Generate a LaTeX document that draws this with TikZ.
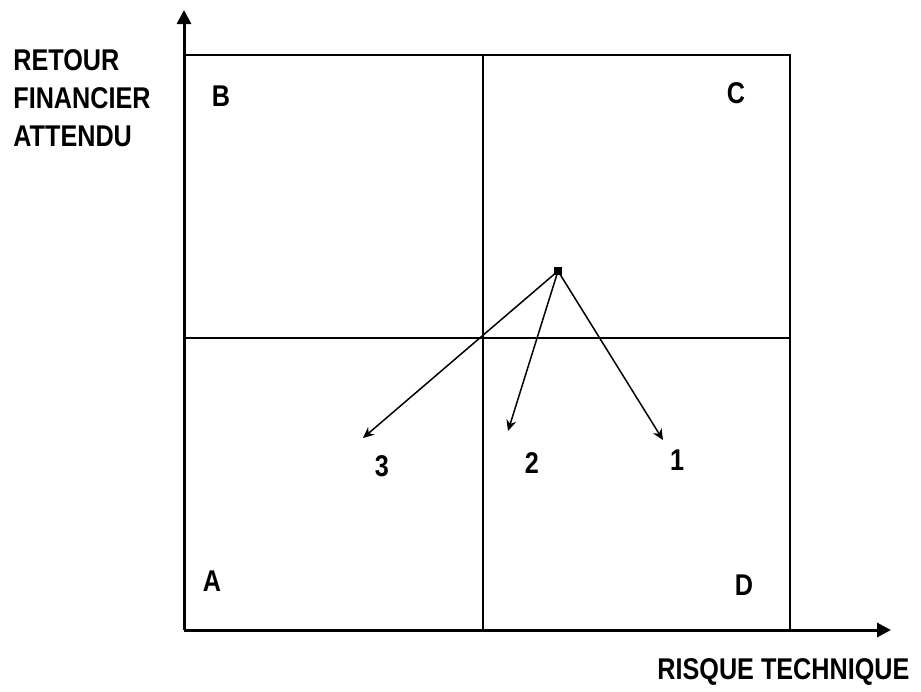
\documentclass[tikz,border=0pt]{standalone}
\usepackage{fontspec}
\setmainfont{Liberation Sans}[FakeStretch=0.84]
\usetikzlibrary{arrows.meta}

\begin{document}
\begin{tikzpicture}[x=0.5pt, y=-0.5pt,
    lbl/.style={font=\fontsize{15}{19}\selectfont\bfseries, inner sep=0pt},
    axis/.style={line width=1.5pt, -{Triangle[length=7pt, width=7pt]}},
    frame line/.style={line width=0.9pt},
    move/.style={line width=0.75pt, -{Stealth[length=5.5pt, width=5pt]}}]
    \useasboundingbox (0,0) rectangle (921,691);

    % Axes
    \coordinate (O) at (184,630);
    \coordinate (ytip) at (184,10);
    \coordinate (xtip) at (891,630);
    \draw[axis] (O) -- (ytip);
    \draw[axis] (O) -- (xtip);

    % Frame and quadrants
    \draw[frame line] (184,55) -- (790,55) -- (790,630);
    \draw[frame line] (483,55) -- (483,630);
    \draw[frame line] (184,338) -- (790,338);

    % Quadrant letters
    \node[lbl] (qA) at (212,581) {A};
    \node[lbl] (qB) at (221,96) {B};
    \node[lbl] (qC) at (736,93) {C};
    \node[lbl] (qD) at (744,585) {D};

    % Current position and the three moves
    \node[fill, minimum size=4pt, inner sep=0pt] (pos) at (558,271) {};
    \coordinate (m1) at (663,440);
    \coordinate (m2) at (508,431);
    \coordinate (m3) at (363,438);
    \draw[move] (pos.center) -- (m1);
    \draw[move] (pos.center) -- (m2);
    \draw[move] (pos.center) -- (m3);
    \node[lbl] (l1) at (677,460) {1};
    \node[lbl] (l2) at (532,463) {2};
    \node[lbl] (l3) at (382,466) {3};

    % Axis titles
    \node[lbl, align=left, anchor=north west] (ylab) at (13,49) {RETOUR\\FINANCIER\\ATTENDU};
    \node[lbl, anchor=west] (xlab) at (657,672) {RISQUE TECHNIQUE};
\end{tikzpicture}
\end{document}
